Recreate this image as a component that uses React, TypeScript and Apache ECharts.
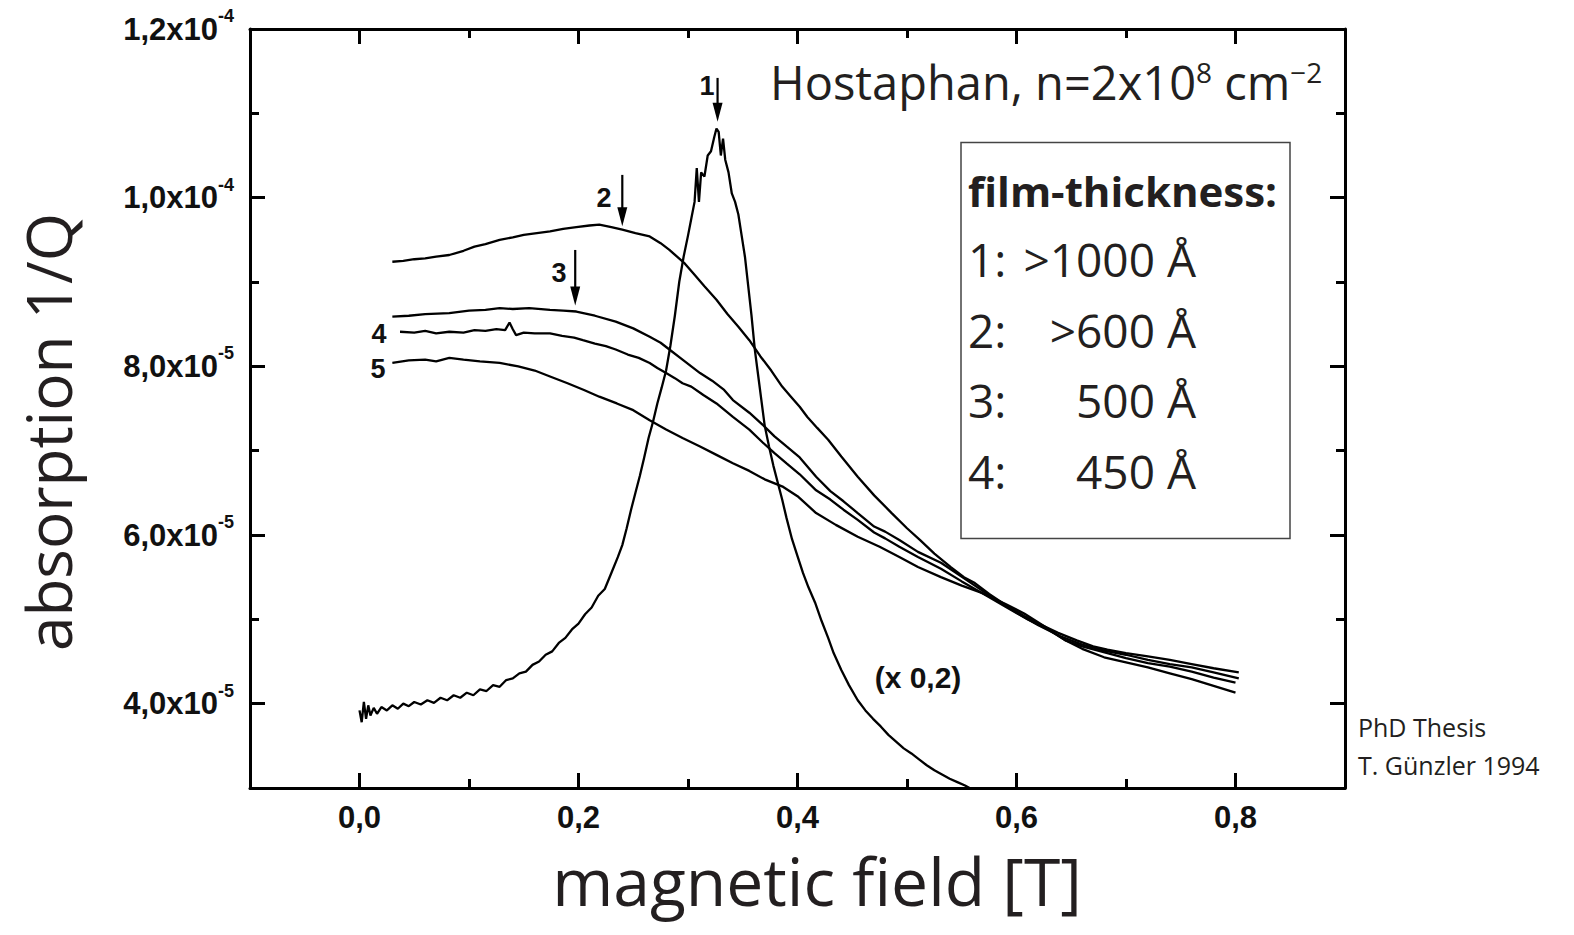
import React, { useEffect, useRef } from "react";
import * as echarts from "echarts";

// ---------- tick labels ----------
const xMajorTicks = [0, 0.2, 0.4, 0.6, 0.8];
const xMajorLabels = ["0,0", "0,2", "0,4", "0,6", "0,8"];
const xMinorTicks = [0.1, 0.3, 0.5, 0.7];
// y values are in units of 1e-5
const yMajorTicks = [4, 6, 8, 10, 12];
const yMantissas = ["4,0", "6,0", "8,0", "1,0", "1,2"];
const yExponents = ["-5", "-5", "-5", "-4", "-4"];
const yMinorTicks = [5, 7, 9, 11];

const xTitle = "magnetic field [T]";
const yTitle = "absorption 1/Q";

// ---------- series values: [magnetic field (T), absorption (1e-5)] ----------
const curve1: [number, number][] = [
  [0.0, 3.92], [0.002, 3.78], [0.004, 4.02], [0.006, 3.82], [0.008, 3.98], [0.01, 3.86],
  [0.013, 3.95], [0.016, 3.88], [0.02, 3.96], [0.025, 3.92], [0.03, 3.98], [0.035, 3.94],
  [0.04, 4.0], [0.045, 3.97], [0.05, 4.02], [0.056, 3.99], [0.062, 4.04], [0.068, 4.01],
  [0.074, 4.07], [0.08, 4.04], [0.086, 4.1], [0.092, 4.07], [0.098, 4.13], [0.104, 4.1],
  [0.11, 4.17], [0.116, 4.15], [0.122, 4.22], [0.128, 4.2], [0.134, 4.28], [0.14, 4.3],
  [0.146, 4.36], [0.152, 4.38], [0.158, 4.46], [0.164, 4.5], [0.17, 4.58], [0.176, 4.62],
  [0.182, 4.72], [0.188, 4.78], [0.194, 4.88], [0.2, 4.95], [0.206, 5.06], [0.212, 5.14],
  [0.218, 5.28], [0.224, 5.36], [0.23, 5.55], [0.236, 5.74], [0.24, 5.88], [0.244, 6.08],
  [0.248, 6.3], [0.252, 6.5], [0.256, 6.7], [0.26, 6.92], [0.264, 7.15], [0.268, 7.34],
  [0.272, 7.56], [0.276, 7.75], [0.28, 7.95], [0.284, 8.25], [0.288, 8.6], [0.292, 9.0],
  [0.296, 9.3], [0.3, 9.55], [0.303, 9.75], [0.306, 9.95], [0.308, 10.35], [0.31, 9.95],
  [0.312, 10.3], [0.315, 10.25], [0.318, 10.5], [0.321, 10.55], [0.324, 10.72], [0.326, 10.82],
  [0.328, 10.78], [0.33, 10.5], [0.332, 10.7], [0.334, 10.45], [0.337, 10.3], [0.34, 10.05],
  [0.343, 9.95], [0.346, 9.8], [0.349, 9.55], [0.352, 9.3], [0.355, 8.95], [0.358, 8.6],
  [0.361, 8.2], [0.364, 7.9], [0.367, 7.6], [0.37, 7.3], [0.374, 7.05], [0.378, 6.82],
  [0.382, 6.62], [0.386, 6.42], [0.39, 6.2], [0.395, 5.95], [0.4, 5.75], [0.405, 5.55],
  [0.41, 5.38], [0.416, 5.2], [0.422, 4.98], [0.428, 4.78], [0.433, 4.6], [0.44, 4.4],
  [0.447, 4.22], [0.455, 4.04], [0.462, 3.92], [0.469, 3.82], [0.476, 3.73], [0.483, 3.63],
  [0.49, 3.55], [0.497, 3.47], [0.504, 3.41], [0.511, 3.34], [0.518, 3.27], [0.525, 3.21],
  [0.532, 3.16], [0.539, 3.11], [0.546, 3.07], [0.553, 3.03], [0.56, 2.98],
];

const curve2: [number, number][] = [
  [0.03, 9.24], [0.04, 9.25], [0.05, 9.27], [0.06, 9.28], [0.07, 9.3], [0.082, 9.32],
  [0.095, 9.37], [0.105, 9.42], [0.115, 9.45], [0.128, 9.5], [0.14, 9.53], [0.15, 9.56],
  [0.162, 9.58], [0.174, 9.6], [0.186, 9.63], [0.198, 9.65], [0.21, 9.67], [0.219, 9.68],
  [0.23, 9.65], [0.24, 9.62], [0.252, 9.58], [0.265, 9.54], [0.275, 9.46], [0.283, 9.38],
  [0.29, 9.3], [0.297, 9.22], [0.305, 9.1], [0.315, 8.95], [0.326, 8.79], [0.336, 8.62],
  [0.346, 8.47], [0.356, 8.31], [0.366, 8.12], [0.376, 7.95], [0.386, 7.76], [0.394, 7.64],
  [0.402, 7.52], [0.409, 7.4], [0.418, 7.27], [0.428, 7.13], [0.44, 6.93], [0.455, 6.69],
  [0.47, 6.47], [0.486, 6.26], [0.5, 6.08], [0.512, 5.94], [0.525, 5.78], [0.54, 5.62],
  [0.552, 5.5], [0.562, 5.43], [0.575, 5.3], [0.59, 5.17], [0.607, 5.04], [0.62, 4.95],
  [0.638, 4.84], [0.655, 4.75], [0.67, 4.68], [0.683, 4.64], [0.7, 4.6], [0.72, 4.56],
  [0.74, 4.52], [0.76, 4.47], [0.78, 4.42], [0.803, 4.37],
];

const curve3: [number, number][] = [
  [0.03, 8.59], [0.045, 8.6], [0.06, 8.62], [0.082, 8.63], [0.1, 8.66], [0.115, 8.67],
  [0.128, 8.69], [0.14, 8.68], [0.155, 8.69], [0.174, 8.67], [0.186, 8.66], [0.198, 8.65],
  [0.215, 8.6], [0.234, 8.53], [0.25, 8.45], [0.265, 8.35], [0.275, 8.28], [0.283, 8.2],
  [0.295, 8.08], [0.303, 8.0], [0.311, 7.92], [0.322, 7.83], [0.333, 7.72], [0.341, 7.6],
  [0.356, 7.45], [0.368, 7.31], [0.379, 7.17], [0.39, 7.05], [0.402, 6.92], [0.417, 6.69],
  [0.43, 6.52], [0.442, 6.4], [0.455, 6.26], [0.47, 6.1], [0.48, 6.04], [0.493, 5.94],
  [0.51, 5.8], [0.531, 5.67], [0.545, 5.55], [0.562, 5.4], [0.58, 5.24], [0.6, 5.08],
  [0.62, 4.93], [0.64, 4.8], [0.66, 4.7], [0.68, 4.63], [0.7, 4.58], [0.72, 4.52],
  [0.74, 4.47], [0.76, 4.43], [0.78, 4.37], [0.803, 4.3],
];

const curve4: [number, number][] = [
  [0.037, 8.41], [0.05, 8.4], [0.06, 8.42], [0.07, 8.39], [0.082, 8.41], [0.095, 8.4],
  [0.105, 8.43], [0.115, 8.42], [0.125, 8.44], [0.133, 8.43], [0.137, 8.52], [0.14, 8.44],
  [0.143, 8.37], [0.15, 8.4], [0.16, 8.39], [0.174, 8.39], [0.185, 8.36], [0.196, 8.34],
  [0.204, 8.31], [0.215, 8.27], [0.225, 8.24], [0.234, 8.2], [0.245, 8.14], [0.255, 8.1],
  [0.265, 8.04], [0.272, 7.98], [0.28, 7.92], [0.288, 7.86], [0.295, 7.8], [0.303, 7.76],
  [0.314, 7.66], [0.326, 7.56], [0.341, 7.4], [0.356, 7.25], [0.368, 7.1], [0.379, 6.97],
  [0.39, 6.85], [0.402, 6.72], [0.417, 6.53], [0.43, 6.42], [0.442, 6.3], [0.455, 6.18],
  [0.47, 6.03], [0.48, 5.96], [0.493, 5.86], [0.51, 5.74], [0.531, 5.6], [0.55, 5.45],
  [0.57, 5.3], [0.59, 5.15], [0.61, 5.0], [0.63, 4.87], [0.645, 4.75], [0.66, 4.65],
  [0.68, 4.55], [0.7, 4.49], [0.72, 4.43], [0.74, 4.36], [0.76, 4.29], [0.78, 4.21],
  [0.8, 4.13],
];

const curve5: [number, number][] = [
  [0.03, 8.04], [0.045, 8.07], [0.06, 8.08], [0.07, 8.06], [0.082, 8.1], [0.095, 8.08],
  [0.11, 8.06], [0.128, 8.04], [0.145, 8.0], [0.16, 7.95], [0.174, 7.88], [0.19, 7.8],
  [0.205, 7.72], [0.219, 7.64], [0.235, 7.56], [0.25, 7.48], [0.265, 7.36], [0.28, 7.25],
  [0.295, 7.15], [0.311, 7.05], [0.326, 6.95], [0.341, 6.85], [0.356, 6.76], [0.37, 6.66],
  [0.387, 6.57], [0.4, 6.46], [0.417, 6.26], [0.435, 6.12], [0.455, 5.98], [0.475, 5.86],
  [0.493, 5.74], [0.51, 5.62], [0.531, 5.5], [0.55, 5.4], [0.569, 5.31], [0.59, 5.18],
  [0.607, 5.07], [0.625, 4.92], [0.645, 4.75], [0.66, 4.68], [0.683, 4.6], [0.7, 4.54],
  [0.72, 4.48], [0.74, 4.44], [0.76, 4.38], [0.78, 4.31], [0.8, 4.25],
];

const curves = [curve1, curve2, curve3, curve4, curve5];
const curveNames = ["1", "2", "3", "4", "5"];

// arrows marking the resonance fields: field, top of shaft, arrow tip (1e-5 units)
const arrowMarks: { x: number; from: number; tip: number }[] = [
  { x: 0.327, from: 11.42, tip: 10.9 },
  { x: 0.24, from: 10.27, tip: 9.66 },
  { x: 0.197, from: 9.38, tip: 8.72 },
];

const legendTitle = "film-thickness:";
const legendRows: [string, string][] = [
  ["1:", ">1000 Å"],
  ["2:", ">600 Å"],
  ["3:", "500 Å"],
  ["4:", "450 Å"],
];

const SANS = "'Open Sans', 'Noto Sans', sans-serif";
const ARIAL = "'Liberation Sans', Arial, sans-serif";
const INK = "#231f20";

function txt(x: number, y: number, text: string, extra: any, align = "left", rotation = 0) {
  return {
    type: "text",
    x,
    y,
    rotation,
    style: {
      text,
      fill: INK,
      align,
      verticalAlign: "middle",
      textAlign: align,
      textVerticalAlign: "middle",
      ...extra,
    },
  };
}

export default function App() {
  const ref = useRef<HTMLDivElement>(null);

  useEffect(() => {
    document.body.style.margin = "0";
    if (!ref.current) return;
    const chart = echarts.init(ref.current, undefined, { renderer: "svg" });

    const axisLineStyle = { color: "#000", width: 3 };
    const tickStyle = { color: "#000", width: 3 };

    const xBase = { type: "value" as const, min: -0.1, max: 0.9, splitLine: { show: false } };
    const yBase = { type: "value" as const, min: 3, max: 12, splitLine: { show: false } };

    const xAxes = [
      {
        ...xBase,
        position: "bottom",
        axisLine: { show: true, onZero: false, lineStyle: axisLineStyle },
        axisTick: { show: true, inside: true, length: 15, lineStyle: tickStyle, customValues: xMajorTicks },
        axisLabel: {
          show: true,
          customValues: xMajorTicks,
          margin: 14,
          color: "#111",
          fontFamily: ARIAL,
          fontWeight: "bold",
          fontSize: 31,
          formatter: (v: number) => {
            const i = xMajorTicks.findIndex((t) => Math.abs(t - v) < 1e-6);
            return i >= 0 ? xMajorLabels[i] : "";
          },
        },
      },
      {
        ...xBase,
        position: "bottom",
        axisLine: { show: false, onZero: false },
        axisTick: { show: true, inside: true, length: 9, lineStyle: tickStyle, customValues: xMinorTicks },
        axisLabel: { show: false },
      },
      {
        ...xBase,
        position: "top",
        axisLine: { show: true, onZero: false, lineStyle: axisLineStyle },
        axisTick: { show: true, inside: true, length: 15, lineStyle: tickStyle, customValues: xMajorTicks },
        axisLabel: { show: false },
      },
      {
        ...xBase,
        position: "top",
        axisLine: { show: false, onZero: false },
        axisTick: { show: true, inside: true, length: 9, lineStyle: tickStyle, customValues: xMinorTicks },
        axisLabel: { show: false },
      },
    ];

    const yAxes = [
      {
        ...yBase,
        position: "left",
        axisLine: { show: true, onZero: false, lineStyle: axisLineStyle },
        axisTick: { show: true, inside: true, length: 15, lineStyle: tickStyle, customValues: yMajorTicks },
        axisLabel: {
          show: true,
          customValues: yMajorTicks,
          margin: 16,
          color: "#111",
          formatter: (v: number) => {
            const i = yMajorTicks.findIndex((t) => Math.abs(t - v) < 1e-6);
            if (i < 0) return "";
            return `{m|${yMantissas[i]}x10}{e|${yExponents[i]}}`;
          },
          rich: {
            m: { fontFamily: ARIAL, fontWeight: "bold", fontSize: 31, color: "#111" },
            e: { fontFamily: ARIAL, fontWeight: "bold", fontSize: 18, color: "#111", padding: [0, 0, 26, 0] },
          },
        },
      },
      {
        ...yBase,
        position: "left",
        axisLine: { show: false, onZero: false },
        axisTick: { show: true, inside: true, length: 9, lineStyle: tickStyle, customValues: yMinorTicks },
        axisLabel: { show: false },
      },
      {
        ...yBase,
        position: "right",
        axisLine: { show: true, onZero: false, lineStyle: axisLineStyle },
        axisTick: { show: true, inside: true, length: 15, lineStyle: tickStyle, customValues: yMajorTicks },
        axisLabel: { show: false },
      },
      {
        ...yBase,
        position: "right",
        axisLine: { show: false, onZero: false },
        axisTick: { show: true, inside: true, length: 9, lineStyle: tickStyle, customValues: yMinorTicks },
        axisLabel: { show: false },
      },
    ];

    const series = curves.map((data, idx) => ({
      name: curveNames[idx],
      type: "line",
      xAxisIndex: 0,
      yAxisIndex: 0,
      data,
      showSymbol: false,
      symbol: "none",
      clip: true,
      lineStyle: { color: "#000", width: 2.3 },
      emphasis: { disabled: true },
    }));

    const baseGraphic: any[] = [
      // axis titles
      txt(817, 880, xTitle, { fontFamily: SANS, fontSize: 66 }, "center"),
      txt(48, 432, yTitle, { fontFamily: SANS, fontSize: 62 }, "center", Math.PI / 2),
      // heading annotation
      {
        type: "text",
        x: 770,
        y: 82,
        style: {
          text: "{m|Hostaphan, n=2x10}{s|8}{m| cm}{s|−2}",
          align: "left",
          verticalAlign: "middle",
          textAlign: "left",
          textVerticalAlign: "middle",
          fill: INK,
          rich: {
            m: { fontFamily: SANS, fontSize: 47, fill: INK },
            s: { fontFamily: SANS, fontSize: 28, fill: INK, padding: [0, 0, 20, 0] },
          },
        },
      },
      // legend box
      {
        type: "rect",
        shape: { x: 961, y: 142.5, width: 329, height: 396 },
        style: { fill: "transparent", stroke: "#444", lineWidth: 1.5 },
      },
      txt(968, 190, legendTitle, { fontFamily: SANS, fontWeight: "bold", fontSize: 42 }),
      ...legendRows.flatMap((row, i) => [
        txt(968, 259 + i * 70.5, row[0], { fontFamily: SANS, fontSize: 46 }),
        txt(1196, 259 + i * 70.5, row[1], { fontFamily: SANS, fontSize: 46 }, "right"),
      ]),
      // curve number labels
      ...[
        { t: "1", x: 707, y: 86 },
        { t: "2", x: 604, y: 198 },
        { t: "3", x: 559, y: 273 },
        { t: "4", x: 379, y: 334 },
        { t: "5", x: 378, y: 369 },
        { t: "(x 0,2)", x: 918, y: 677 },
      ].map((l) =>
        txt(l.x, l.y, l.t, {
          fontFamily: ARIAL,
          fontWeight: "bold",
          fontSize: l.t.length > 1 ? 30 : 27,
          fill: "#111",
        }, "center")
      ),
      // credit
      txt(1358, 727, "PhD Thesis", { fontFamily: SANS, fontSize: 25 }),
      txt(1358, 765, "T. Günzler 1994", { fontFamily: SANS, fontSize: 25 }),
    ];

    chart.setOption({
      animation: false,
      backgroundColor: "#fff",
      grid: { left: 250, right: 229, top: 29, bottom: 147, containLabel: false },
      xAxis: xAxes,
      yAxis: yAxes,
      series,
      graphic: baseGraphic,
    } as any);

    // arrows placed through the chart's own scales
    const arrowGraphic: any[] = arrowMarks.flatMap((a) => {
      const p1 = chart.convertToPixel({ xAxisIndex: 0, yAxisIndex: 0 } as any, [a.x, a.from]) as number[];
      const p2 = chart.convertToPixel({ xAxisIndex: 0, yAxisIndex: 0 } as any, [a.x, a.tip]) as number[];
      return [
        {
          type: "line",
          shape: { x1: p1[0], y1: p1[1], x2: p2[0], y2: p2[1] - 12 },
          style: { stroke: "#000", lineWidth: 2.2 },
        },
        {
          type: "polygon",
          shape: { points: [[p2[0] - 5, p2[1] - 19], [p2[0] + 5, p2[1] - 19], [p2[0], p2[1]]] },
          style: { fill: "#000" },
        },
      ];
    });

    chart.setOption({ graphic: [...baseGraphic, ...arrowGraphic] } as any);

    return () => {
      chart.dispose();
    };
  }, []);

  return <div ref={ref} style={{ width: 1574, height: 935 }} />;
}
